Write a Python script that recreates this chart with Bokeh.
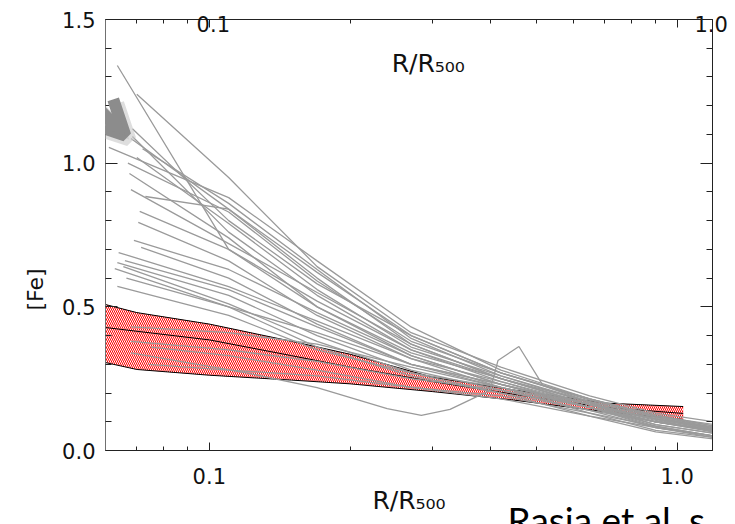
import numpy as np
from bokeh.plotting import figure
from bokeh.models import (FixedTicker, LinearAxis, LogAxis, Title, Arrow, OpenHead, Label,
                          Range1d, CustomJSTickFormatter, ColumnDataSource)
from bokeh.embed import file_html
from bokeh.resources import INLINE

# ---------------- data ----------------
X_RANGE = (0.06, 1.19)
Y_RANGE = (0.0, 1.5)

x_major = [0.1, 1.0]
x_minor = [0.07, 0.08, 0.09, 0.2, 0.3, 0.4, 0.5, 0.6, 0.7, 0.8, 0.9]
y_major = [0.0, 0.5, 1.0, 1.5]
y_minor = [0.1, 0.2, 0.3, 0.4, 0.6, 0.7, 0.8, 0.9, 1.1, 1.2, 1.3, 1.4]

# top tick labels as printed on the original (slightly offset from the ticks)
top_label_pos = [0.102, 1.182]
top_label_txt = ["0.1", "1.0"]

# observational band (shaded)
band_r = [0.06, 0.07, 0.1, 0.15, 0.2, 0.3, 0.45, 0.7, 1.03]
band_hi = [0.508, 0.48, 0.44, 0.38, 0.335, 0.255, 0.21, 0.165, 0.153]
band_mid = [0.428, 0.415, 0.385, 0.33, 0.29, 0.24, 0.195, 0.15, 0.129]
band_lo = [0.306, 0.282, 0.262, 0.245, 0.232, 0.205, 0.175, 0.135, 0.108]

# simulated profiles: first radius / value, then values on a common grid
r_grid = [0.11, 0.17, 0.27, 0.42, 0.65, 0.9, 1.2]
prof_r0 = [0.0636, 0.070, 0.0685, 0.068, 0.0685, 0.061, 0.070, 0.067, 0.0675,
           0.068, 0.073, 0.071, 0.0705, 0.069, 0.0715, 0.064, 0.0636, 0.066,
           0.0655, 0.0628, 0.0636, 0.068, 0.068, 0.075, 0.074, 0.072, 0.0665]
prof_fe0 = [1.34, 1.24, 1.12, 1.086, 1.093, 1.055, 1.02, 1.00, 0.964,
            0.908, 0.884, 0.832, 0.794, 0.731, 0.707, 0.689, 0.654, 0.661,
            0.640, 0.633, 0.571, 0.43, 0.38, 0.36, 0.30, 1.05, 0.60]
prof_fe = [
    [0.70, 0.50, 0.34, 0.25, 0.17, 0.115, 0.075],
    [0.95, 0.64, 0.41, 0.29, 0.19, 0.13, 0.10],
    [0.80, 0.58, 0.40, 0.27, 0.175, 0.12, 0.08],
    [0.84, 0.60, 0.37, 0.25, 0.16, 0.09, 0.06],
    [0.76, 0.54, 0.35, 0.24, 0.15, 0.085, 0.05],
    [0.88, 0.66, 0.43, 0.28, 0.18, 0.12, 0.09],
    [0.79, 0.56, 0.36, 0.26, 0.165, 0.11, 0.07],
    [0.83, 0.59, 0.38, 0.27, 0.18, 0.125, 0.085],
    [0.74, 0.50, 0.33, 0.23, 0.15, 0.08, 0.05],
    [0.72, 0.55, 0.37, 0.25, 0.16, 0.11, 0.075],
    [0.84, 0.62, 0.40, 0.27, 0.18, 0.12, 0.085],
    [0.70, 0.52, 0.35, 0.25, 0.16, 0.10, 0.065],
    [0.66, 0.47, 0.32, 0.22, 0.13, 0.07, 0.045],
    [0.63, 0.48, 0.33, 0.23, 0.15, 0.10, 0.07],
    [0.60, 0.44, 0.30, 0.22, 0.15, 0.09, 0.06],
    [0.57, 0.45, 0.32, 0.24, 0.16, 0.11, 0.08],
    [0.54, 0.40, 0.28, 0.21, 0.14, 0.08, 0.05],
    [0.56, 0.43, 0.30, 0.23, 0.16, 0.11, 0.075],
    [0.51, 0.38, 0.27, 0.20, 0.12, 0.065, 0.04],
    [0.50, 0.36, 0.26, 0.20, 0.14, 0.10, 0.07],
    [0.47, 0.35, 0.27, 0.22, 0.15, 0.10, 0.07],
    [0.41, 0.37, 0.29, 0.22, 0.15, 0.10, 0.065],
    [0.35, 0.31, 0.25, 0.21, 0.15, 0.10, 0.07],
    [0.33, 0.28, 0.22, 0.19, 0.13, 0.085, 0.05],
    [0.28, 0.26, 0.22, 0.18, 0.12, 0.08, 0.045],
    [0.86, 0.63, 0.39, 0.26, 0.17, 0.115, 0.08],
    [0.50, 0.41, 0.30, 0.23, 0.16, 0.105, 0.065],
]

# one profile with a local dip and spike
spike_r = [0.068, 0.12, 0.17, 0.24, 0.284, 0.327, 0.398, 0.414, 0.459, 0.517, 0.7, 0.95, 1.2]
spike_fe = [0.34, 0.27, 0.219, 0.146, 0.122, 0.143, 0.209, 0.313, 0.362, 0.226, 0.15, 0.1, 0.065]

# ---------------- figure ----------------
FONT = "DejaVu Sans"
p = figure(width=735, height=524, x_axis_type="log",
           x_range=Range1d(*X_RANGE), y_range=Range1d(*Y_RANGE),
           output_backend="svg", toolbar_location=None,
           min_border_left=105, min_border_right=23,
           min_border_top=19, min_border_bottom=74)
p.grid.visible = False
p.outline_line_color = "#222222"
p.background_fill_color = "white"
p.border_fill_color = "white"

fmt = CustomJSTickFormatter(code="return tick.toFixed(1)")
blank = CustomJSTickFormatter(code="return ''")

xt = FixedTicker(ticks=x_major, minor_ticks=x_minor)
yt = FixedTicker(ticks=y_major, minor_ticks=y_minor)


def style_axis(ax, major, minor):
    ax.major_tick_in = major
    ax.major_tick_out = 0
    ax.minor_tick_in = minor
    ax.minor_tick_out = 0
    ax.major_tick_line_color = "#222222"
    ax.minor_tick_line_color = "#222222"
    ax.axis_line_color = "#222222"
    ax.major_label_text_font = FONT
    ax.major_label_text_font_size = "21px"
    ax.major_label_text_color = "#111111"


xa = p.xaxis[0]
xa.ticker = xt
xa.formatter = fmt
style_axis(xa, 8, 4)
xa.major_label_standoff = 17
xa.axis_label = "R/R\u2085\u2080\u2080"
xa.axis_label_text_font = FONT
xa.axis_label_text_font_size = "25px"
xa.axis_label_text_font_style = "normal"
xa.axis_label_text_color = "#111111"
xa.axis_label_standoff = -1

ya = p.yaxis[0]
ya.ticker = yt
ya.formatter = fmt
style_axis(ya, 12, 6)
ya.major_label_standoff = 10
ya.axis_line_color = "#707070"

top = LogAxis(ticker=xt, formatter=blank, major_label_standoff=0)
style_axis(top, 8, 4)
p.add_layout(top, "above")

top_lab = LogAxis(ticker=FixedTicker(ticks=top_label_pos, minor_ticks=[]),
                  formatter=CustomJSTickFormatter(
                      args=dict(pos=top_label_pos, txt=top_label_txt),
                      code="return txt[pos.indexOf(tick)]"),
                  major_label_standoff=-12)
style_axis(top_lab, 0, 0)
top_lab.axis_line_color = None
top_lab.major_tick_line_color = None
top_lab.minor_tick_line_color = None
p.add_layout(top_lab, "above")

right = LinearAxis(ticker=yt, formatter=blank, major_label_standoff=0)
style_axis(right, 12, 6)
p.add_layout(right, "right")

# band
bsrc = ColumnDataSource(dict(r=band_r, hi=band_hi, mid=band_mid, lo=band_lo))
p.varea(x="r", y1="lo", y2="hi", source=bsrc, fill_color="red",
        hatch_pattern="\\", hatch_color="white", hatch_scale=4, hatch_weight=1)
p.line(x="r", y="hi", source=bsrc, line_color="black", line_width=1)
p.line(x="r", y="mid", source=bsrc, line_color="black", line_width=1)
p.line(x="r", y="lo", source=bsrc, line_color="black", line_width=1)

# profiles
xs = [[r0] + r_grid for r0 in prof_r0] + [spike_r]
ys = [[f0] + list(f) for f0, f in zip(prof_fe0, prof_fe)] + [spike_fe]
p.multi_line(xs=xs, ys=ys, line_color="#9a9a9a", line_width=1.3)

# texts
p.add_layout(Label(x=0.2938, y=1.347, text="R/R\u2085\u2080\u2080", text_font=FONT,
                   text_font_size="25px", text_color="#111111", text_align="center",
                   text_baseline="alphabetic"))
p.add_layout(Title(text="[Fe]", align="left", offset=140, standoff=20, vertical_align="top",
                   text_font=FONT, text_font_size="22px", text_font_style="normal",
                   text_color="#111111"), "left")
p.add_layout(Title(text="Rasia et al. s", align="left", offset=402, standoff=-42,
                   vertical_align="top", text_font="Lato", text_font_size="37px",
                   text_font_style="normal", text_color="black"), "below")

# pointer arrow (with soft shadow)
sh = 10 ** (4 / 468.0)
p.add_layout(Arrow(x_start=0.034 * sh, y_start=1.566 - 4 / 287.3,
                   x_end=0.06614 * sh, y_end=1.0964 - 4 / 287.3,
                   line_width=14, line_color="#c8c8c8", line_alpha=0.6,
                   end=OpenHead(size=34, line_width=14, line_color="#c8c8c8", line_alpha=0.6)))
p.add_layout(Arrow(x_start=0.034, y_start=1.566, x_end=0.06614, y_end=1.0964,
                   line_width=12, line_color="#8c8c8c",
                   end=OpenHead(size=34, line_width=12, line_color="#8c8c8c")))

open("out.html", "w").write(file_html(p, INLINE))
